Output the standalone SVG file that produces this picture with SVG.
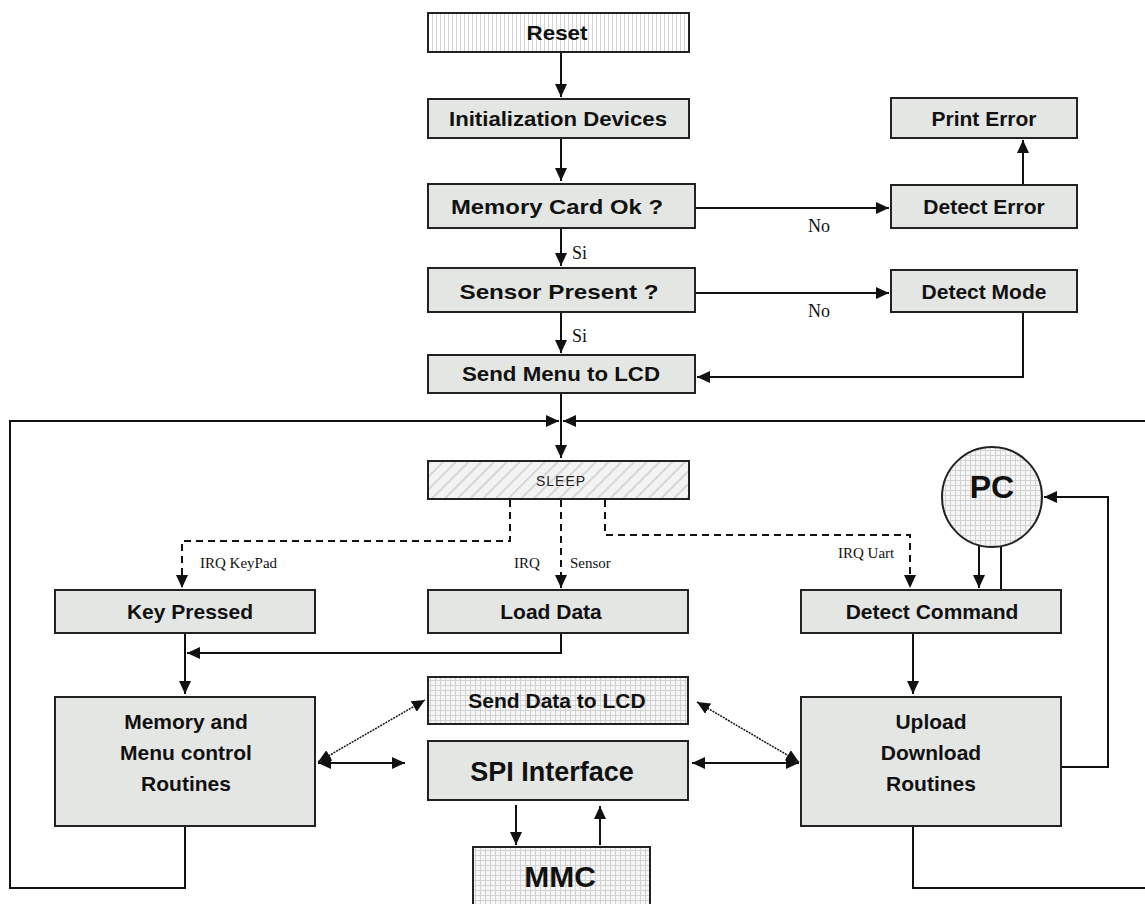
<svg xmlns="http://www.w3.org/2000/svg" width="1145" height="904" viewBox="0 0 1145 904">
<defs>
<style>
.box{fill:#e4e6e4;stroke:#222;stroke-width:2}
.vh{fill:url(#vhatch);stroke:#222;stroke-width:2}
.dh{fill:url(#dhatch);stroke:#222;stroke-width:2}
.gr{fill:url(#grid);stroke:#222;stroke-width:2}
.t{font-family:"Liberation Sans",Arial,sans-serif;font-weight:bold;font-size:21px;fill:#111;text-anchor:middle}
.tb{font-family:"Liberation Sans",Arial,sans-serif;font-weight:bold;font-size:27px;fill:#111;text-anchor:middle}
.ts{font-family:"Liberation Sans",Arial,sans-serif;font-size:14px;fill:#222;text-anchor:middle;letter-spacing:1px}
.lb{font-family:"Liberation Serif","Times New Roman",serif;font-size:18px;fill:#111}
.ls{font-family:"Liberation Serif","Times New Roman",serif;font-size:15px;fill:#111}
.c{fill:none;stroke:#111;stroke-width:2}
.d{fill:none;stroke:#111;stroke-width:2;stroke-dasharray:7,5}
.a{marker-end:url(#ah)}
.b{marker-start:url(#ah);marker-end:url(#ah)}
</style>
<marker id="ah" markerUnits="userSpaceOnUse" markerWidth="14" markerHeight="12" refX="13" refY="6" orient="auto-start-reverse">
<path d="M0,0 L13,6 L0,12 z" fill="#111"/>
</marker>
<pattern id="vhatch" patternUnits="userSpaceOnUse" width="4" height="4">
<rect width="4" height="4" fill="#fff"/>
<rect width="1" height="4" fill="#d4d4d4"/>
</pattern>
<pattern id="dhatch" patternUnits="userSpaceOnUse" width="9" height="9" patternTransform="rotate(45)">
<rect width="9" height="9" fill="#f3f3f3"/>
<rect width="2" height="9" fill="#d6d6d6"/>
</pattern>
<pattern id="grid" patternUnits="userSpaceOnUse" width="5" height="5">
<rect width="5" height="5" fill="#f6f6f6"/>
<path d="M0,0.5 H5 M0.5,0 V5" stroke="#d2d2d2" stroke-width="1"/>
</pattern>
</defs>
<rect width="1145" height="904" fill="#fff"/>

<g id="connectors">
<path class="c a" d="M561,52 V97"/>
<path class="c a" d="M561,138 V181"/>
<path class="c a" d="M695,208 H889"/>
<path class="c a" d="M1023,184 V140"/>
<path class="c a" d="M561,228 V266"/>
<path class="c a" d="M695,293 H889"/>
<path class="c a" d="M561,311 V353"/>
<path class="c a" d="M1023,312 V377 H697"/>
<path class="c a" d="M561,393 V458"/>
<path class="c a" d="M185,826 V888 H10 V421 H559"/>
<path class="c a" d="M913,826 V888 H1150 V421 H563"/>
<path class="d a" d="M510,500 V541 H182 V588"/>
<path class="d a" d="M561,500 V588"/>
<path class="d a" d="M605,500 V535 H910 V588"/>
<path class="c a" d="M979,525 V588"/>
<path class="c a" d="M1001,590 V506"/>
<path class="c a" d="M1061,767 H1108 V497 H1044"/>
<path class="c a" d="M561,633 V653 H187"/>
<path class="c a" d="M185,633 V694"/>
<path class="c a" d="M913,633 V694"/>
<path class="c b" d="M318,762 L425,700" style="stroke-width:1.5;stroke-dasharray:2,1"/>
<path class="c b" d="M318,763 H405"/>
<path class="c b" d="M692,763 H799"/>
<path class="c b" d="M697,702 L799,762" style="stroke-width:1.5;stroke-dasharray:2,1"/>
<path class="c a" d="M516,805 V845"/>
<path class="c a" d="M600,845 V806"/>
</g>

<g id="reset"><rect class="vh" x="428" y="13" width="261" height="39"/><text class="t" x="557" y="40" textLength="61" lengthAdjust="spacingAndGlyphs">Reset</text></g>
<g id="init"><rect class="box" x="428" y="99" width="261" height="39"/><text class="t" x="558" y="126" textLength="218" lengthAdjust="spacingAndGlyphs">Initialization Devices</text></g>
<g id="memcard"><rect class="box" x="428" y="184" width="267" height="44"/><text class="t" x="557" y="214" textLength="212" lengthAdjust="spacingAndGlyphs">Memory Card Ok ?</text></g>
<g id="printerror"><rect class="box" x="891" y="98" width="186" height="40"/><text class="t" x="984" y="126">Print Error</text></g>
<g id="detecterror"><rect class="box" x="891" y="185" width="186" height="43"/><text class="t" x="984" y="214">Detect Error</text></g>
<g id="sensor"><rect class="box" x="428" y="268" width="267" height="44"/><text class="t" x="559" y="299" textLength="199" lengthAdjust="spacingAndGlyphs">Sensor Present ?</text></g>
<g id="detectmode"><rect class="box" x="891" y="270" width="186" height="42"/><text class="t" x="984" y="299">Detect Mode</text></g>
<g id="sendmenu"><rect class="box" x="428" y="355" width="267" height="38"/><text class="t" x="561" y="381" textLength="198" lengthAdjust="spacingAndGlyphs">Send Menu to LCD</text></g>
<g id="sleep"><rect class="dh" x="428" y="461" width="261" height="38"/><text class="ts" x="561" y="486">SLEEP</text></g>
<g id="pc"><circle cx="992" cy="497" r="50" fill="url(#grid)" stroke="#222" stroke-width="2"/><text class="tb" x="992" y="498" style="font-size:32px">PC</text></g>
<g id="keypressed"><rect class="box" x="55" y="590" width="260" height="43"/><text class="t" x="190" y="619">Key Pressed</text></g>
<g id="loaddata"><rect class="box" x="428" y="590" width="260" height="43"/><text class="t" x="551" y="619">Load  Data</text></g>
<g id="detectcommand"><rect class="box" x="801" y="590" width="260" height="43"/><text class="t" x="932" y="619">Detect Command</text></g>
<g id="memory"><rect class="box" x="55" y="697" width="260" height="129"/><text class="t" x="186" y="729">Memory and</text><text class="t" x="186" y="760">Menu control</text><text class="t" x="186" y="791">Routines</text></g>
<g id="upload"><rect class="box" x="801" y="697" width="260" height="129"/><text class="t" x="931" y="729">Upload</text><text class="t" x="931" y="760">Download</text><text class="t" x="931" y="791">Routines</text></g>
<g id="senddata"><rect class="gr" x="428" y="677" width="260" height="47"/><text class="t" x="557" y="708">Send Data to LCD</text></g>
<g id="spi"><rect class="box" x="428" y="741" width="260" height="59"/><text class="tb" x="552" y="781">SPI Interface</text></g>
<g id="mmc"><rect class="gr" x="473" y="847" width="177" height="60"/><text class="tb" x="560" y="887" style="font-size:30px">MMC</text></g>

<g id="labels">
<text class="lb" x="808" y="232">No</text>
<text class="lb" x="572" y="259">Si</text>
<text class="lb" x="808" y="317">No</text>
<text class="lb" x="572" y="342">Si</text>
<text class="ls" x="200" y="568">IRQ KeyPad</text>
<text class="ls" x="514" y="568">IRQ</text>
<text class="ls" x="570" y="568">Sensor</text>
<text class="ls" x="838" y="558">IRQ Uart</text>
</g>
</svg>
